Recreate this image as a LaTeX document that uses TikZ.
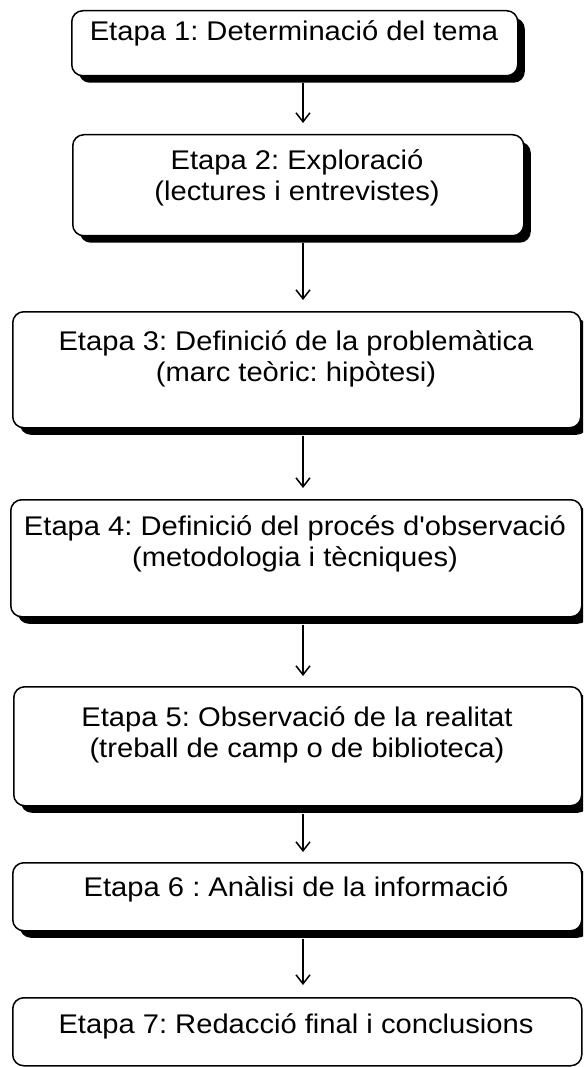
\documentclass[tikz,border=0pt]{standalone}
\usepackage{fontspec}
\newfontfamily\arial{Liberation Sans}[FakeStretch=1.08]
\usetikzlibrary{arrows.meta,shadows}
\frenchspacing
\begin{document}
\begin{tikzpicture}[x=1pt,y=-1pt,
  stage/.style={draw, line width=1.5pt, rounded corners=11pt, fill=white, inner sep=0pt, anchor=north west},
  shad/.style={drop shadow={shadow xshift=7pt, shadow yshift=-7pt, fill=black, opacity=1}},
  lbl/.style={font=\arial\frenchspacing\fontsize{27}{31}\selectfont, align=center, inner sep=0pt, anchor=base},
  arr/.style={line width=1.5pt, -{Straight Barb[length=9pt,width=14pt,line width=1.5pt]}}]
\useasboundingbox (0,0) rectangle (583,1067);
\clip (0,0) rectangle (583,1067);
\coordinate (ax) at (303,0);
% boxes
\node[stage, shad, minimum width=446pt, minimum height=65pt] (b1) at (71,10) {};
\node[stage, shad, minimum width=451pt, minimum height=101pt] (b2) at (72,134) {};
\node[stage, shad, minimum width=568pt, minimum height=116pt] (b3) at (12,311) {};
\node[stage, shad, minimum width=571pt, minimum height=117pt] (b4) at (10,499) {};
\node[stage, shad, minimum width=568pt, minimum height=119pt] (b5) at (13,686) {};
\node[stage, shad, minimum width=569pt, minimum height=68pt] (b6) at (12,862) {};
\node[stage, minimum width=569pt, minimum height=68pt] (b7) at (12,997) {};
% texts (anchor base = baseline of last line)
\node[lbl] (t1) at (294,41) {Etapa 1: Determinació del tema};
\node[lbl] (t2) at (297,201) {Etapa 2: Exploració\\(lectures i entrevistes)};
\node[lbl] (t3) at (296,381) {Etapa 3: Definició de la problemàtica\\(marc teòric: hipòtesi)};
\node[lbl] (t4) at (295,566) {Etapa 4: Definició del procés d'observació\\(metodologia i tècniques)};
\node[lbl] (t5) at (297,757) {Etapa 5: Observació de la realitat\\(treball de camp o de biblioteca)};
\node[lbl] (t6) at (296,896) {Etapa 6 : Anàlisi de la informació};
\node[lbl] (t7) at (296,1033) {Etapa 7: Redacció final i conclusions};
% arrows
\draw[arr] ([yshift=-7pt]b1.south -| ax) -- ([yshift=11pt]b2.north -| ax);
\draw[arr] ([yshift=-7pt]b2.south -| ax) -- ([yshift=11pt]b3.north -| ax);
\draw[arr] ([yshift=-7pt]b3.south -| ax) -- ([yshift=11pt]b4.north -| ax);
\draw[arr] ([yshift=-7pt]b4.south -| ax) -- ([yshift=10pt]b5.north -| ax);
\draw[arr] ([yshift=-7pt]b5.south -| ax) -- ([yshift=10pt]b6.north -| ax);
\draw[arr] ([yshift=-7pt]b6.south -| ax) -- ([yshift=12pt]b7.north -| ax);
\end{tikzpicture}
\end{document}
